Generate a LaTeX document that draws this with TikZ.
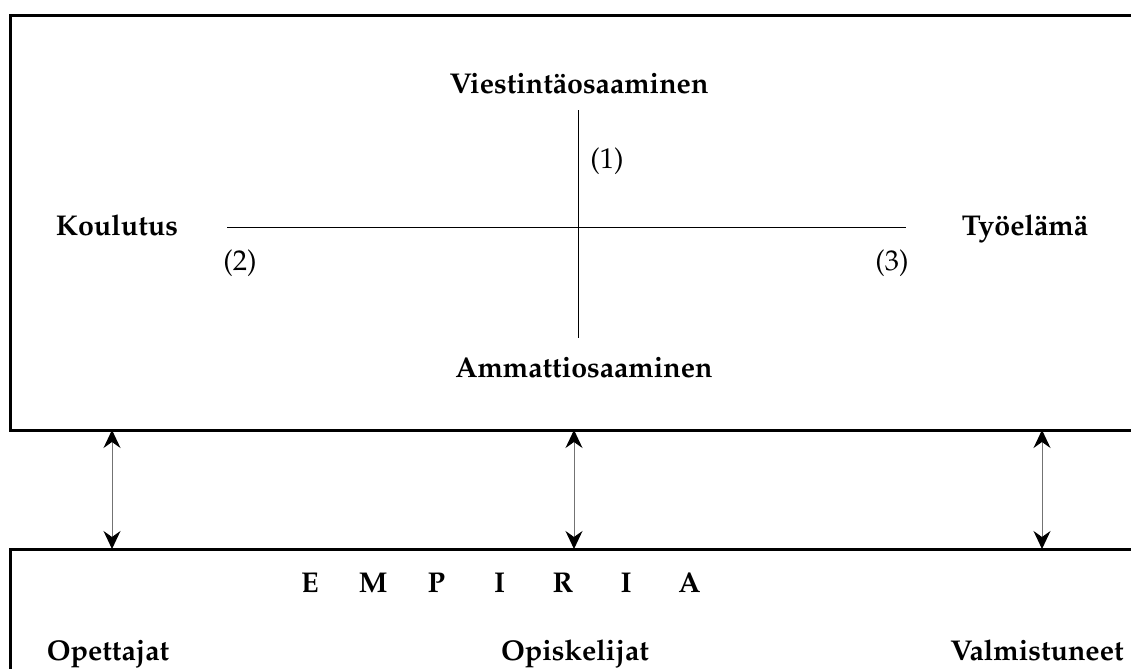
\documentclass[tikz,border=0pt]{standalone}
\usepackage[T1]{fontenc}
\usepackage{mathpazo}
\usepackage{tikz}
\usetikzlibrary{arrows.meta, positioning}

\begin{document}
\begin{tikzpicture}[
    x=0.5pt, y=-0.5pt,
    frameline/.style={line width=1.5pt, line join=miter},
    axisline/.style={line width=0.5pt},
    heading/.style={inner sep=0pt, anchor=base, font=\fontsize{14.3}{17}\selectfont\bfseries},
    marker/.style={inner sep=0pt, anchor=base, font=\fontsize{14.3}{17}\selectfont},
    linkarrow/.style={draw=black!55, line width=0.5pt,
        {Stealth[length=9pt,width=8.5pt,inset=3pt,black]}-{Stealth[length=9pt,width=8.5pt,inset=3pt,black]}}
]
\useasboundingbox (0,0) rectangle (1131,669);

% upper frame (open to the right)
\draw [frameline] (1131,15) -| (10.5,430) -- (1131,430);
% lower frame
\draw [frameline] (1131,549) -- (10.5,549) -- (10.5,669);

% axes
\coordinate (axtop) at (578,110);
\coordinate (axbot) at (578,338);
\coordinate (axleft) at (227,227);
\coordinate (axright) at (906,227);
\draw [axisline] (axtop) -- (axbot);
\draw [axisline] (axleft) -- (axright);

\node [heading] (viestinta) at (579,93) {Viestint\"aosaaminen};
\node [heading] (ammatti) at (584,377) {Ammattiosaaminen};
\node [heading] (koulutus) at (117,235) {Koulutus};
\node [heading] (tyoelama) at (1025,235) {Ty\"oel\"am\"a};
\node [marker] (m1) at (607,168) {(1)};
\node [marker] (m2) at (240,270) {(2)};
\node [marker] (m3) at (892,270) {(3)};

% empiria
\foreach \ch [count=\i] in {E,M,P,I,R,I,A}
    \node [heading] (emp\i) at (246.5+63.3*\i,592) {\ch};

\node [heading] (opettajat) at (108,660) {Opettajat};
\node [heading] (opiskelijat) at (575,660) {Opiskelijat};
\node [heading] (valmistuneet) at (1037,660) {Valmistuneet};

% links between the frames
\coordinate (up1) at (112,430);
\coordinate (lo1) at (112,549);
\coordinate (up2) at (574,430);
\coordinate (lo2) at (574,549);
\coordinate (up3) at (1042,430);
\coordinate (lo3) at (1042,549);
\draw [linkarrow] (up1) -- (lo1);
\draw [linkarrow] (up2) -- (lo2);
\draw [linkarrow] (up3) -- (lo3);
\end{tikzpicture}
\end{document}
